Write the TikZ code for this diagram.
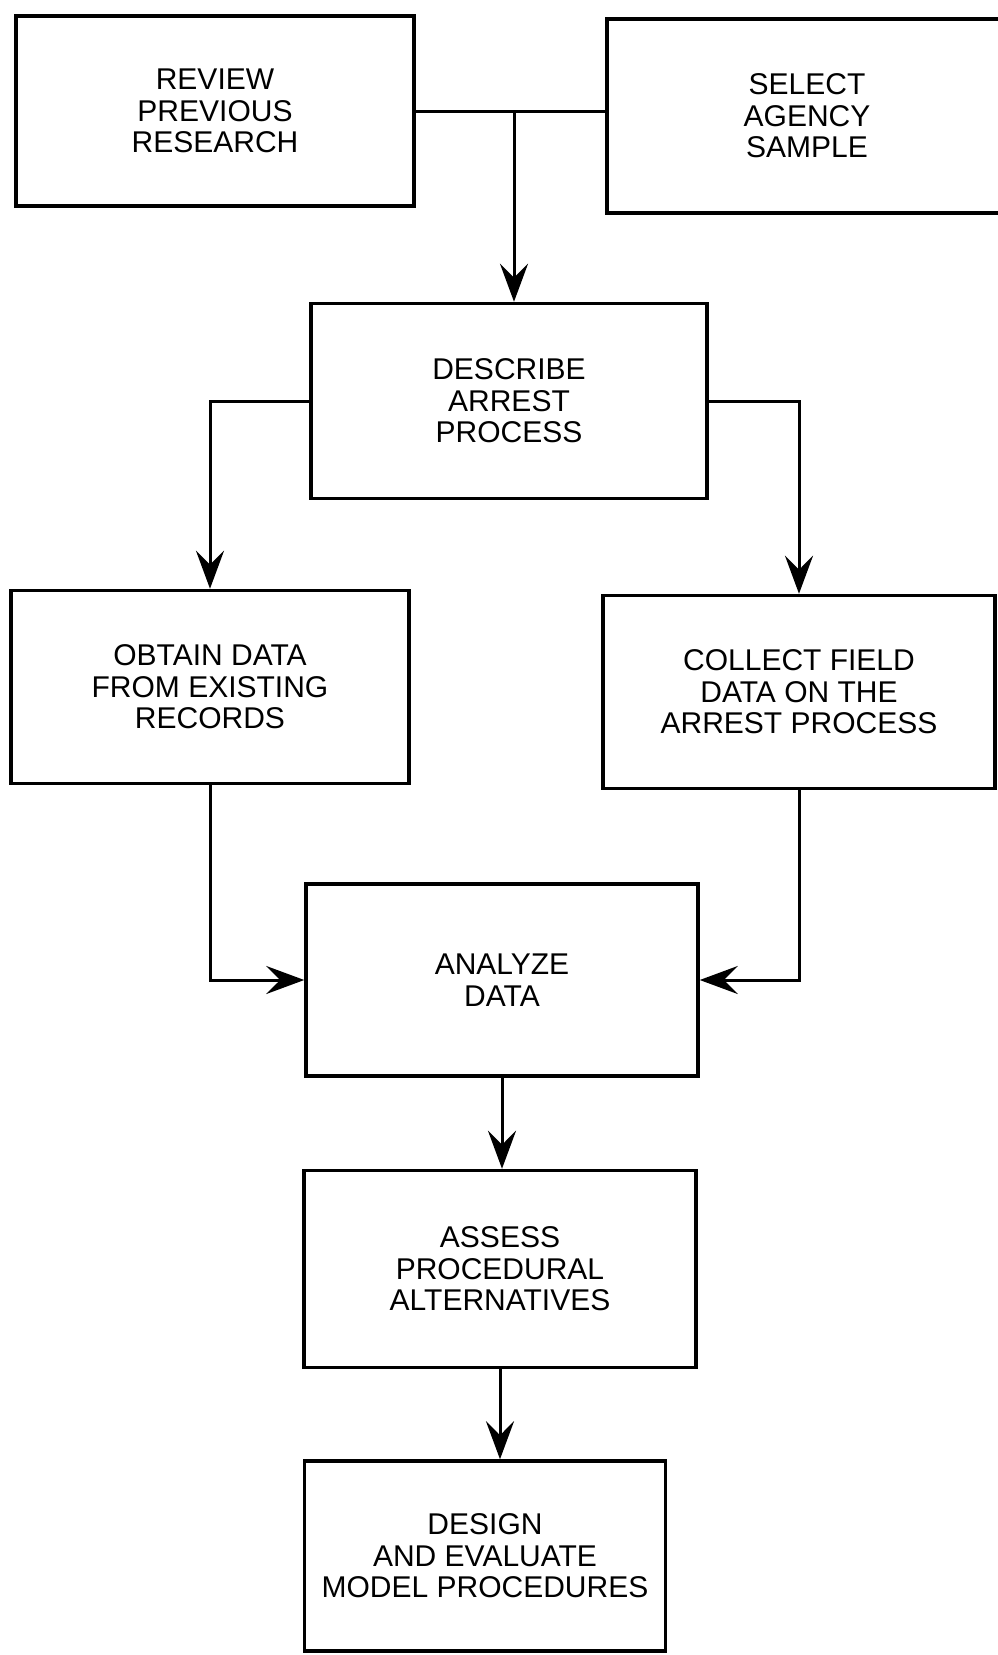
\documentclass[tikz,border=0pt]{standalone}
\usepackage{fontspec}
\setmainfont{Liberation Sans}
\usetikzlibrary{arrows.meta}
\newcommand{\boxFont}[0]{\fontsize{30}{31.5}\selectfont}

\begin{document}
\begin{tikzpicture}[x=1pt, y=-1pt]
  \tikzset{stage/.style={draw, line width=3.5pt, align=center, font=\boxFont,
                         inner sep=0pt},
           flow/.style={line width=3pt,
                        -{Stealth[length=38pt, width=28pt, inset=14pt]}}}
  \useasboundingbox (0,0) rectangle (997,1655);
  \node[stage, minimum width=398pt, minimum height=190pt] (rev) at (215,111) {REVIEW\\PREVIOUS\\RESEARCH};
  \node[stage, minimum width=400pt, minimum height=194pt] (sel) at (807,116) {SELECT\\AGENCY\\SAMPLE};
  \node[stage, minimum width=396pt, minimum height=195pt] (des) at (509,401) {DESCRIBE\\ARREST\\PROCESS};
  \node[stage, minimum width=398pt, minimum height=193pt] (obt) at (210,687) {OBTAIN DATA\\FROM EXISTING\\RECORDS};
  \node[stage, minimum width=392pt, minimum height=193pt] (col) at (799,692) {COLLECT FIELD\\DATA ON THE\\ARREST PROCESS};
  \node[stage, minimum width=392pt, minimum height=192pt] (ana) at (502,980) {ANALYZE\\DATA};
  \node[stage, minimum width=392pt, minimum height=197pt] (ass) at (500,1269) {ASSESS\\PROCEDURAL\\ALTERNATIVES};
  \node[stage, minimum width=361pt, minimum height=190pt] (dsg) at (485,1556) {DESIGN\\AND EVALUATE\\MODEL PROCEDURES};
  % join of the two first steps
  \coordinate (join) at (514,111);
  \draw[line width=3pt] (rev.east) -- (rev.east -| sel.west);
  \draw[flow] (join) -- (join |- des.north);
  \draw[flow] (des.west) -| (obt.north);
  \draw[flow] (des.east) -| (col.north);
  \draw[flow] (obt.south) |- (ana.west);
  \draw[flow] (col.south) |- (ana.east);
  \draw[flow] (ana.south) -- (ana.south |- ass.north);
  \draw[flow] (ass.south) -- (ass.south |- dsg.north);
\end{tikzpicture}
\end{document}
